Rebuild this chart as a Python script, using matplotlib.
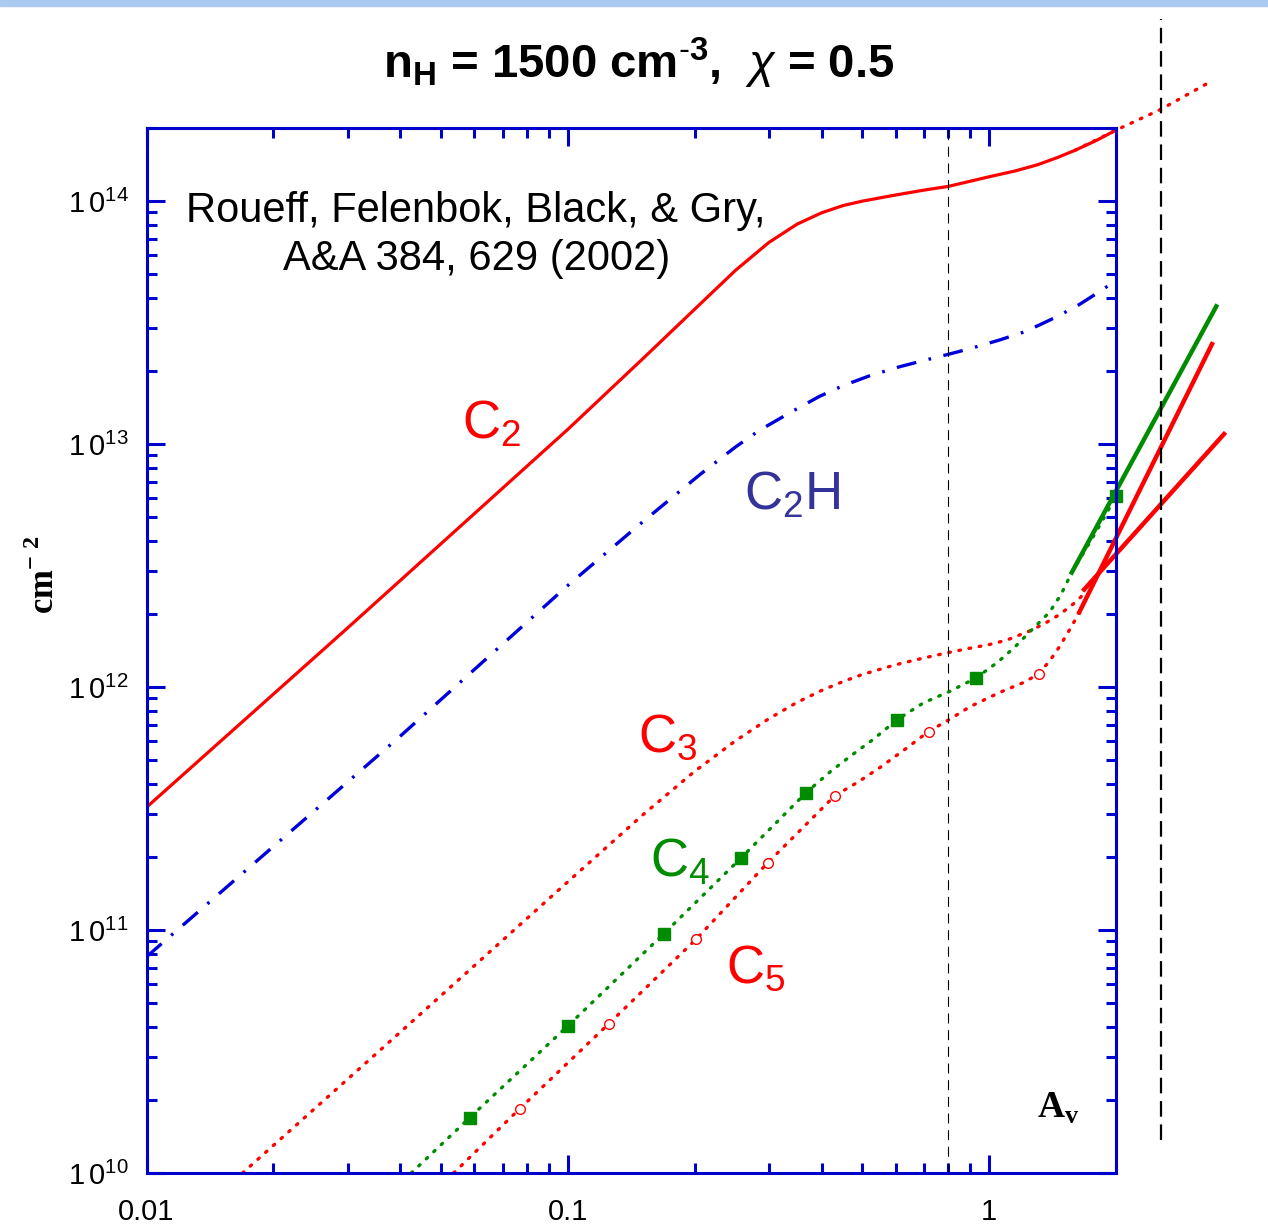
import numpy as np
import matplotlib.pyplot as plt
from matplotlib.patches import Rectangle
from matplotlib.ticker import FuncFormatter, LogLocator, NullFormatter

plt.rcParams['font.family'] = ['Liberation Sans', 'DejaVu Sans']
plt.rcParams['mathtext.fontset'] = 'custom'
plt.rcParams['mathtext.rm'] = 'Liberation Sans'
plt.rcParams['mathtext.it'] = 'Liberation Sans:italic'
plt.rcParams['mathtext.bf'] = 'Liberation Sans:bold'

# column densities (cm^-2) against visual extinction A_v
c2_av = [0.01, 0.03, 0.1, 0.15, 0.2, 0.25, 0.3, 0.35, 0.4, 0.45, 0.5, 0.6, 0.7,
         0.8, 1.0, 1.15, 1.3, 1.45, 1.6, 1.8, 2.0]
c2_n = [3.2e11, 1.75e12, 1.15e13, 2.23e13, 3.59e13, 5.19e13, 6.76e13, 8.04e13,
        8.95e13, 9.59e13, 1.0e14, 1.06e14, 1.11e14, 1.15e14, 1.26e14, 1.33e14,
        1.41e14, 1.51e14, 1.62e14, 1.78e14, 1.96e14]
c2_ext_av = [1.6, 2.0, 2.56, 3.37]
c2_ext_n = [1.62e14, 1.96e14, 2.39e14, 3.12e14]

c2h_av = [0.01, 0.0399, 0.1, 0.148, 0.206, 0.25, 0.285, 0.34, 0.395, 0.45, 0.52,
          0.612, 0.7, 0.791, 0.9, 1.057, 1.2, 1.315, 1.45, 1.635, 1.8, 1.93]
c2h_n = [7.76e10, 6.25e11, 2.62e12, 4.67e12, 7.5e12, 9.73e12, 1.14e13, 1.36e13,
         1.57e13, 1.74e13, 1.91e13, 2.08e13, 2.21e13, 2.33e13, 2.47e13, 2.68e13,
         2.88e13, 3.09e13, 3.35e13, 3.75e13, 4.17e13, 4.52e13]

c3_av = [0.0169, 0.0399, 0.1, 0.15, 0.2, 0.25, 0.3, 0.35, 0.4, 0.45, 0.5, 0.6,
         0.7, 0.8, 0.9, 1.0, 1.1, 1.24, 1.35, 1.47, 1.6, 1.70]
c3_n = [1.0e10, 3.78e10, 1.58e11, 2.96e11, 4.5e11, 6.01e11, 7.41e11, 8.65e11,
        9.68e11, 1.054e12, 1.127e12, 1.236e12, 1.318e12, 1.387e12, 1.445e12,
        1.496e12, 1.56e12, 1.694e12, 1.82e12, 1.99e12, 2.23e12, 2.47e12]

c4_av = [0.0425, 0.0585, 0.1, 0.169, 0.257, 0.368, 0.42, 0.47, 0.53, 0.605, 0.7,
         0.804, 0.931, 1.05, 1.15, 1.245, 1.39, 1.48, 1.57, 1.79, 2.0]
c4_n = [1.0e10, 1.69e10, 4.03e10, 9.66e10, 1.97e11, 3.68e11, 4.49e11, 5.22e11,
        6.08e11, 7.35e11, 8.63e11, 9.58e11, 1.09e12, 1.27e12, 1.46e12, 1.68e12,
        2.03e12, 2.4e12, 2.96e12, 4.33e12, 6.09e12]
c4_marks = [1, 2, 3, 4, 5, 9, 12, 20]

c5_av = [0.0536, 0.0769, 0.125, 0.202, 0.298, 0.43, 0.49, 0.55, 0.63, 0.718,
         0.804, 0.9, 1.057, 1.2, 1.31, 1.4, 1.47, 1.57, 1.636]
c5_n = [1.0e10, 1.84e10, 4.11e10, 9.2e10, 1.89e11, 3.57e11, 4.08e11, 4.66e11,
        5.53e11, 6.56e11, 7.35e11, 8.3e11, 9.49e11, 1.04e12, 1.13e12, 1.30e12,
        1.47e12, 1.78e12, 2.03e12]
c5_marks = [1, 2, 3, 4, 5, 9, 14]

# power-law continuations past the model edge
c4_fit_av = [1.57, 3.46]
c4_fit_n = [2.96e12, 3.69e13]
c5_fit_av = [1.636, 3.38]
c5_fit_n = [2.03e12, 2.58e13]
c3_fit_av = [1.68, 3.61]
c3_fit_n = [2.52e12, 1.10e13]

av_inner = 0.8
av_edge = 2.56

RED = '#ff0000'
GREEN = '#008c00'
BLUE = '#0000dd'
AXBLUE = '#0000cc'
NAVY = '#33339a'
DOT = (0, (0.5, 2.6))

W, H = 1268, 1226
fig = plt.figure(figsize=(W / 100, H / 100), dpi=100)
fig.patches.append(Rectangle((0, 1 - 6 / H), 1, 6 / H, transform=fig.transFigure,
                             color='#aacaf2', zorder=0))
ax = fig.add_axes([146.5 / W, 1 - 1173 / H, (1116 - 146.5) / W, (1173 - 128) / H])
ax.set_xscale('log')
ax.set_yscale('log')
ax.set_xlim(0.01, 2.0)
ax.set_ylim(1e10, 2e14)

ax.plot(c2_av, c2_n, color=RED, lw=2.3)
ax.plot(c2_ext_av, c2_ext_n, color=RED, lw=2.4, ls=DOT, dash_capstyle='round', clip_on=False)
ax.plot(c2h_av, c2h_n, color=BLUE, lw=2.4, ls=(0, (6, 3.8, 0.8, 3.8)))
ax.plot(c3_av, c3_n, color=RED, lw=2.4, ls=DOT, dash_capstyle='round')
ax.plot(c4_av, c4_n, color=GREEN, lw=2.4, ls=DOT, dash_capstyle='round',
        marker='s', ms=8, markevery=c4_marks, mfc=GREEN, mec=GREEN, clip_on=False)
ax.plot(c5_av, c5_n, color=RED, lw=2.4, ls=DOT, dash_capstyle='round',
        marker='o', ms=7, markevery=c5_marks, mfc='white', mec=RED, mew=1.0)

ax.plot(c4_fit_av, c4_fit_n, color=GREEN, lw=3.2, clip_on=False)
ax.plot(c5_fit_av, c5_fit_n, color=RED, lw=3.2, clip_on=False)
ax.plot(c3_fit_av, c3_fit_n, color=RED, lw=3.2, clip_on=False)

ax.plot([av_inner, av_inner], [1e10, 2e14], color='black', lw=0.8, ls=(0, (9, 6)))
ax.plot([av_edge, av_edge], [1.37e10, 5.6e14], color='black', lw=1.6,
        ls=(0, (7, 3.5)), clip_on=False)

for sp in ax.spines.values():
    sp.set_color(AXBLUE)
    sp.set_linewidth(2.2)
ax.tick_params(which='both', direction='in', top=True, right=True,
               color=AXBLUE, width=2.2, labelsize=21)
ax.tick_params(which='major', length=13)
ax.tick_params(which='minor', length=7)
ax.tick_params(axis='x', pad=18)
ax.tick_params(axis='y', pad=13)
ax.xaxis.set_major_formatter(FuncFormatter(lambda v, p: f'{v:g}'))
ax.xaxis.set_minor_formatter(NullFormatter())
ax.yaxis.set_major_locator(LogLocator(base=10, numticks=10))
ax.yaxis.set_major_formatter(
    FuncFormatter(lambda v, p: r'$\mathregular{1\,0^{%d}}$' % round(np.log10(v))))
ax.yaxis.set_minor_formatter(NullFormatter())

# species labels
lab = dict(fontsize=38, ha='left', va='baseline')
ax.text(0.056, 1.05e13, r'C$_\mathregular{2}$', color=RED, **lab)
ax.text(0.262, 5.4e12, r'C$_\mathregular{2}$H', color=NAVY, **lab)
ax.text(0.147, 5.4e11, r'C$_\mathregular{3}$', color=RED, **lab)
ax.text(0.157, 1.66e11, r'C$_\mathregular{4}$', color=GREEN, **lab)
ax.text(0.238, 6.1e10, r'C$_\mathregular{5}$', color=RED, **lab)

ax.text(0.340, 0.910, 'Roueff, Felenbok, Black, & Gry,', transform=ax.transAxes,
        ha='center', va='baseline', fontsize=30)
ax.text(0.340, 0.864, 'A&A 384, 629 (2002)', transform=ax.transAxes,
        ha='center', va='baseline', fontsize=30)

serif = ['Liberation Serif', 'DejaVu Serif']
ax.text(0.918, 0.053, r'A$_\mathregular{v}$', transform=ax.transAxes, ha='left',
        va='baseline', fontsize=27, fontweight='bold', family=serif)
fig.text(45 / W, 1 - 575 / H, r'cm$^\mathregular{-\ 2}$', rotation=90, ha='center',
         va='center', fontsize=25, fontweight='bold', family=serif)

fig.text(0.504, 1 - 78 / H,
         r'n$_\mathregular{H}$ = 1500 cm$^\mathregular{\text{-}3}$,  $\chi$ = 0.5',
         ha='center', va='baseline', fontsize=34, fontweight='bold')

fig.savefig('out.png', dpi=100)
